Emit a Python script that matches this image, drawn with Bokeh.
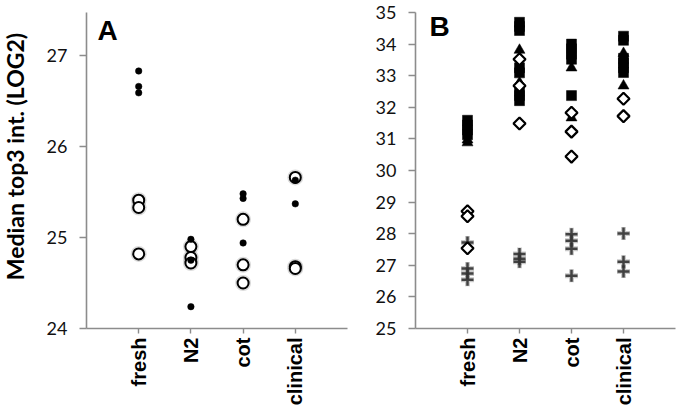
from math import pi
from bokeh.plotting import figure
from bokeh.layouts import row
from bokeh.models import Range1d, FixedTicker, Label, ColumnDataSource
from bokeh.embed import file_html
from bokeh.resources import INLINE

categories = ["fresh", "N2", "cot", "clinical"]
y_title = "Median top3 int. (LOG2)"

# ---- Panel A ----
a_dot_cat = ["fresh", "fresh", "fresh", "N2", "N2", "N2", "cot", "cot", "cot", "clinical", "clinical"]
a_dot_val = [26.83, 26.66, 26.59, 24.98, 24.75, 24.24, 25.48, 25.43, 24.94, 25.63, 25.37]
a_circ_cat = ["fresh", "fresh", "fresh", "N2", "N2", "N2", "cot", "cot", "cot", "clinical", "clinical", "clinical"]
a_circ_val = [25.41, 25.33, 24.82, 24.90, 24.78, 24.72, 25.20, 24.70, 24.50, 25.66, 24.68, 24.66]
a_yticks = [24, 25, 26, 27]

# ---- Panel B ----
b_sq_cat = ["fresh"] * 4 + ["N2"] * 8 + ["cot"] * 5 + ["clinical"] * 6
b_sq_val = [31.59, 31.44, 31.28, 31.13,
            34.69, 34.56, 34.43, 33.25, 33.09, 32.52, 32.37, 32.21,
            34.00, 33.85, 33.68, 33.52, 32.37,
            34.25, 34.12, 33.55, 33.40, 33.25, 33.10]
b_tri_cat = ["fresh", "fresh", "N2", "N2", "cot", "cot", "clinical", "clinical"]
b_tri_val = [30.97, 30.88, 33.81, 32.78, 33.25, 31.67, 33.71, 32.68]
b_dia_cat = ["fresh"] * 3 + ["N2"] * 3 + ["cot"] * 3 + ["clinical"] * 2
b_dia_val = [28.71, 28.55, 27.54, 33.52, 32.68, 31.49, 31.83, 31.23, 30.44, 32.27, 31.72]
b_plus_cat = ["fresh"] * 4 + ["N2"] * 3 + ["cot"] * 4 + ["clinical"] * 3
b_plus_val = [27.72, 26.90, 26.74, 26.54, 27.36, 27.21, 27.11, 27.98, 27.78, 27.52, 26.67, 28.01, 27.11, 26.80]
b_yticks = [25, 26, 27, 28, 29, 30, 31, 32, 33, 34, 35]

AXIS_COLOR = "#8c8c8c"


def src(cats, vals):
    return ColumnDataSource(dict(x=[categories.index(c) + 1 for c in cats], y=vals))


def style(p, yticks):
    p.xgrid.visible = False
    p.ygrid.visible = False
    p.outline_line_color = None
    p.background_fill_color = "white"
    p.border_fill_color = "white"
    for ax in (p.xaxis[0], p.yaxis[0]):
        ax.axis_line_color = AXIS_COLOR
        ax.axis_line_width = 1.6
        ax.major_tick_line_color = AXIS_COLOR
        ax.major_tick_line_width = 1.4
        ax.minor_tick_line_color = None
        ax.major_tick_in = 0
    xa = p.xaxis[0]
    xa.ticker = FixedTicker(ticks=[1, 2, 3, 4])
    xa.major_label_overrides = {i + 1: c for i, c in enumerate(categories)}
    xa.major_label_orientation = pi / 2
    xa.major_label_text_font = "Liberation Sans"
    xa.major_label_text_font_style = "bold"
    xa.major_label_text_font_size = "20px"
    xa.major_label_text_color = "black"
    xa.major_tick_out = 5
    xa.major_label_standoff = 4
    ya = p.yaxis[0]
    ya.ticker = FixedTicker(ticks=yticks)
    ya.major_label_text_font = "Lato"
    ya.major_label_text_font_size = "18px"
    ya.major_label_text_color = "#111111"
    ya.major_tick_out = 7
    ya.major_label_standoff = 12


# Title strip (holds the shared y-axis title)
A_YR = (24, 27.473)
pT = figure(width=28, height=415, output_backend="svg", toolbar_location=None,
            x_range=Range1d(0, 1), y_range=Range1d(*A_YR),
            x_axis_location=None, y_axis_location=None,
            min_border_left=0, min_border_right=0, min_border_top=5, min_border_bottom=87)
pT.xgrid.visible = False
pT.ygrid.visible = False
pT.outline_line_color = None
pT.add_layout(Label(x=0.5, y=25.89, text=y_title, angle=pi / 2,
                    text_align="center", text_baseline="middle", text_font="Lato",
                    text_font_style="bold", text_font_size="23px", text_color="black"))

# Figure A
pA = figure(width=322, height=415, output_backend="svg", toolbar_location=None,
            x_range=Range1d(0, 5), y_range=Range1d(*A_YR),
            min_border_left=58, min_border_right=3, min_border_top=5, min_border_bottom=87)
style(pA, a_yticks)
sA_c = src(a_circ_cat, a_circ_val)
sA_d = src(a_dot_cat, a_dot_val)
pA.scatter("x", "y", source=sA_c, marker="circle", size=13, fill_color=None,
           line_color="#999999", line_alpha=0.35, line_width=3)
pA.scatter("x", "y", source=sA_c, marker="circle", size=11, fill_color="white",
           line_color="black", line_width=2)
pA.scatter("x", "y", source=sA_d, marker="circle", size=6.5, fill_color="black",
           line_color="black", line_width=0.5)
pA.add_layout(Label(x=0.21, y=27.27, text="A", text_font="Liberation Sans",
                    text_font_style="bold", text_font_size="28px", text_color="black",
                    text_baseline="alphabetic", text_align="left"))

# Figure B
pB = figure(width=326, height=415, output_backend="svg", toolbar_location=None,
            x_range=Range1d(0, 5), y_range=Range1d(25, 35),
            min_border_left=65, min_border_right=1, min_border_top=12, min_border_bottom=87)
style(pB, b_yticks)
sB_p = src(b_plus_cat, b_plus_val)
sB_s = src(b_sq_cat, b_sq_val)
sB_t = src(b_tri_cat, b_tri_val)
sB_d = src(b_dia_cat, b_dia_val)
pB.scatter("x", "y", source=sB_p, marker="cross", size=13, line_color="#666666",
           line_alpha=0.35, line_width=5)
pB.scatter("x", "y", source=sB_p, marker="cross", size=12, line_color="#333333",
           line_alpha=0.9, line_width=2.5)
pB.scatter("x", "y", source=sB_s, marker="square", size=10, fill_color="black",
           line_color="black", line_width=0.5)
pB.scatter("x", "y", source=sB_t, marker="triangle", size=11, fill_color="black",
           line_color="black", line_width=0.5)
pB.scatter("x", "y", source=sB_d, marker="square", angle=pi / 4, size=8.5,
           fill_color="white", line_color="black", line_width=2.2)
pB.add_layout(Label(x=0.27, y=34.55, text="B", text_font="Liberation Sans",
                    text_font_style="bold", text_font_size="28px", text_color="black",
                    text_baseline="alphabetic", text_align="left"))

layout = row(pT, pA, pB)

with open("out.html", "w") as f:
    f.write(file_html(layout, INLINE))
